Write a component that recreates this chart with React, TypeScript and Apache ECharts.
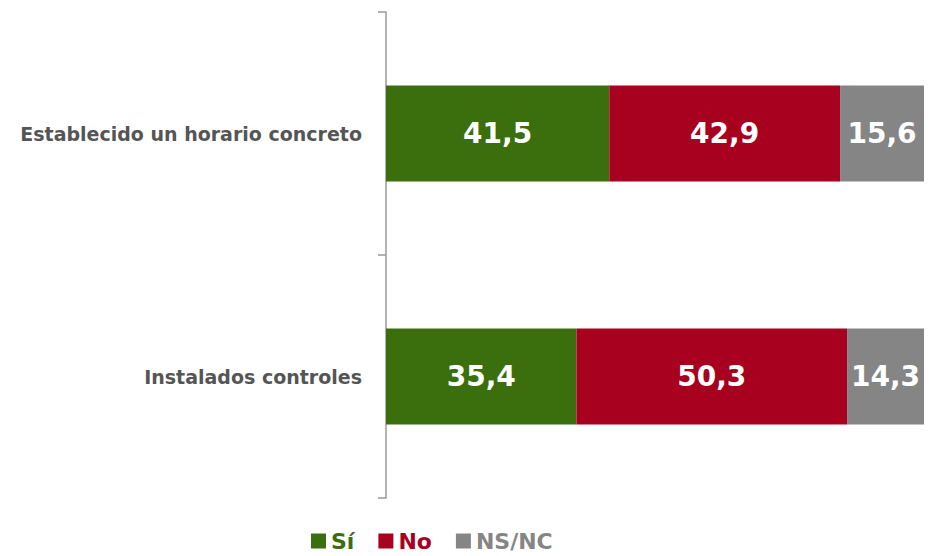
import React, { useEffect, useRef } from "react";
import * as echarts from "echarts";

const categories = ["Establecido un horario concreto", "Instalados controles"];
const siValues = [41.5, 35.4];
const noValues = [42.9, 50.3];
const nsncValues = [15.6, 14.3];
const seriesNames = ["Sí", "No", "NS/NC"];
const colors = ["#3b6e0c", "#a8001f", "#858585"];

export default function App() {
  const ref = useRef<HTMLDivElement>(null);
  useEffect(() => {
    if (!ref.current) return;
    const chart = echarts.init(ref.current, null, { renderer: "svg" });
    const dataSets = [siValues, noValues, nsncValues];
    chart.setOption({
      animation: false,
      grid: { left: 386, right: 9, top: 12, bottom: 58, containLabel: false },
      xAxis: { type: "value", min: 0, max: 100, show: false },
      yAxis: {
        type: "category",
        data: categories,
        inverse: true,
        axisLine: { show: true, lineStyle: { color: "#9a9a9a", width: 1.5 } },
        axisTick: { show: true, length: 8, lineStyle: { color: "#9a9a9a", width: 1.5 } },
        axisLabel: {
          margin: 24,
          color: "#555555",
          fontFamily: "DejaVu Sans",
          fontWeight: "bold",
          fontSize: 19,
        },
      },
      legend: {
        left: 311,
        top: 530,
        padding: 0,
        icon: "rect",
        itemWidth: 15,
        itemHeight: 15,
        itemGap: 24,
        data: seriesNames.map((n, i) => ({
          name: n,
          textStyle: {
            color: colors[i],
            fontFamily: "DejaVu Sans",
            fontWeight: "bold",
            fontSize: 22,
          },
        })),
      },
      series: dataSets.map((d, i) => ({
        name: seriesNames[i],
        type: "bar",
        stack: "total",
        barWidth: 96,
        itemStyle: { color: colors[i] },
        data: d,
        label: {
          show: true,
          position: "inside",
          color: "#ffffff",
          fontFamily: "DejaVu Sans",
          fontWeight: "bold",
          fontSize: 28,
          formatter: (p: any) => String(p.value.toFixed(1)).replace(".", ","),
        },
      })),
    });
    return () => chart.dispose();
  }, []);
  return (
    <div
      ref={ref}
      style={{ position: "fixed", left: 0, top: 0, width: 933, height: 556, background: "#fff" }}
    />
  );
}
